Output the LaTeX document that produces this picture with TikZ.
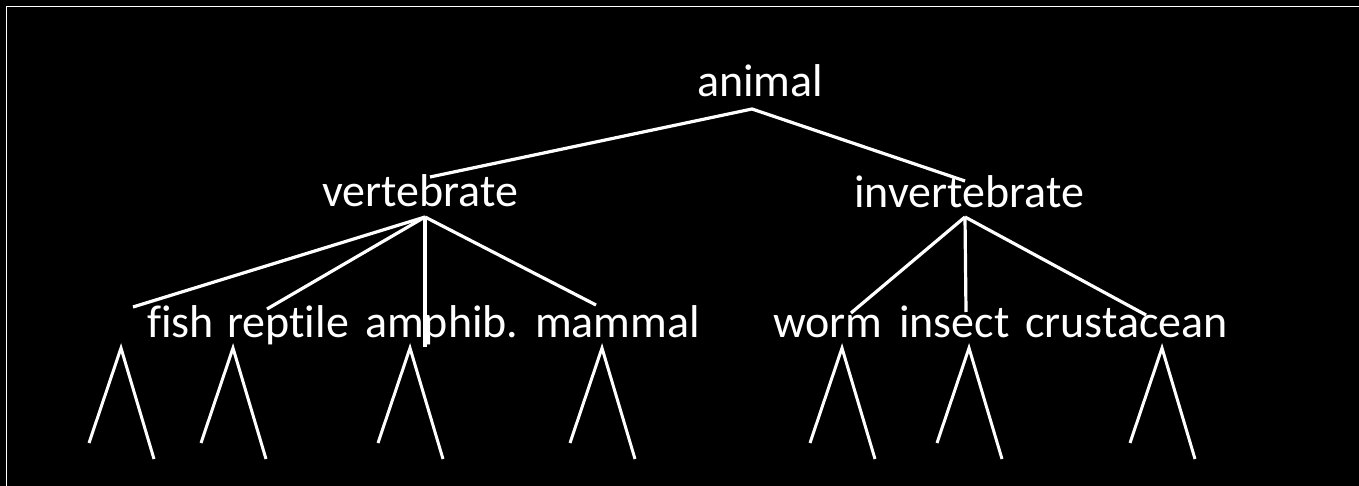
\documentclass[tikz,border=0pt]{standalone}
\usepackage{fontspec}
\newfontfamily\treefont[Ligatures=NoCommon]{Carlito}

\begin{document}
\begin{tikzpicture}
  [x=1pt,y=-1pt,
   word/.style={text=white,font=\treefont\fontsize{46}{55}\selectfont,
                inner sep=0pt,anchor=base west},
   branch/.style={draw=white,line width=3.2pt},
   subtree/.style={draw=white,line width=3pt}]
  \fill[black] (0,0) rectangle (1359,486);
  \useasboundingbox (0,0) rectangle (1359,486);
  \draw[white,line width=1.8pt] (6.5,486) -- (6.5,6.5) -- (1359,6.5);

  % words
  \node (animal) at (697,97) [word] {animal};
  \node (vert) at (322,207) [word] {vertebrate};
  \node (invert) at (854,208) [word] {invertebrate};
  \node (fish) at (147,337) [word] {fish};
  \node (reptile) at (227,337) [word] {reptile};
  \node (amphib) at (365,337) [word] {amphib.};
  \node (mammal) at (535,337) [word] {mammal};
  \node (worm) at (773,337) [word] {worm};
  \node (insect) at (899,337) [word] {insect};
  \node (crust) at (1025,337) [word] {crustacean};

  % branch points
  \coordinate (animal-root) at (752,109);
  \coordinate (vert-root) at (425,217);
  \coordinate (invert-root) at (965,217);
  \coordinate (vert-end) at (430,177);
  \coordinate (invert-end) at (965,181);
  \coordinate (fish-end) at (133,307);
  \coordinate (reptile-end) at (267,309);
  \coordinate (amphib-end) at (425,347);
  \coordinate (mammal-end) at (596,305);
  \coordinate (worm-end) at (851,313);
  \coordinate (insect-end) at (966,312);
  \coordinate (crust-end) at (1146,315);

  \draw[branch] (vert-end) -- (animal-root) -- (invert-end);
  \foreach \leaf in {fish,reptile,amphib,mammal}
    \draw[branch] (vert-root) -- (\leaf-end);
  \foreach \leaf in {worm,insect,crust}
    \draw[branch] (invert-root) -- (\leaf-end);

  % subtrees under the leaves
  \foreach \leaf/\x in {fish/121,reptile/233,amphib/410,mammal/602,
                        worm/842,insect/969,crust/1162}
  {
    \coordinate (\leaf-sub) at (\x,348);
    \draw[subtree] ([shift={(-32,95)}]\leaf-sub) -- (\leaf-sub)
                   -- ([shift={(33,111)}]\leaf-sub);
  }
\end{tikzpicture}
\end{document}
